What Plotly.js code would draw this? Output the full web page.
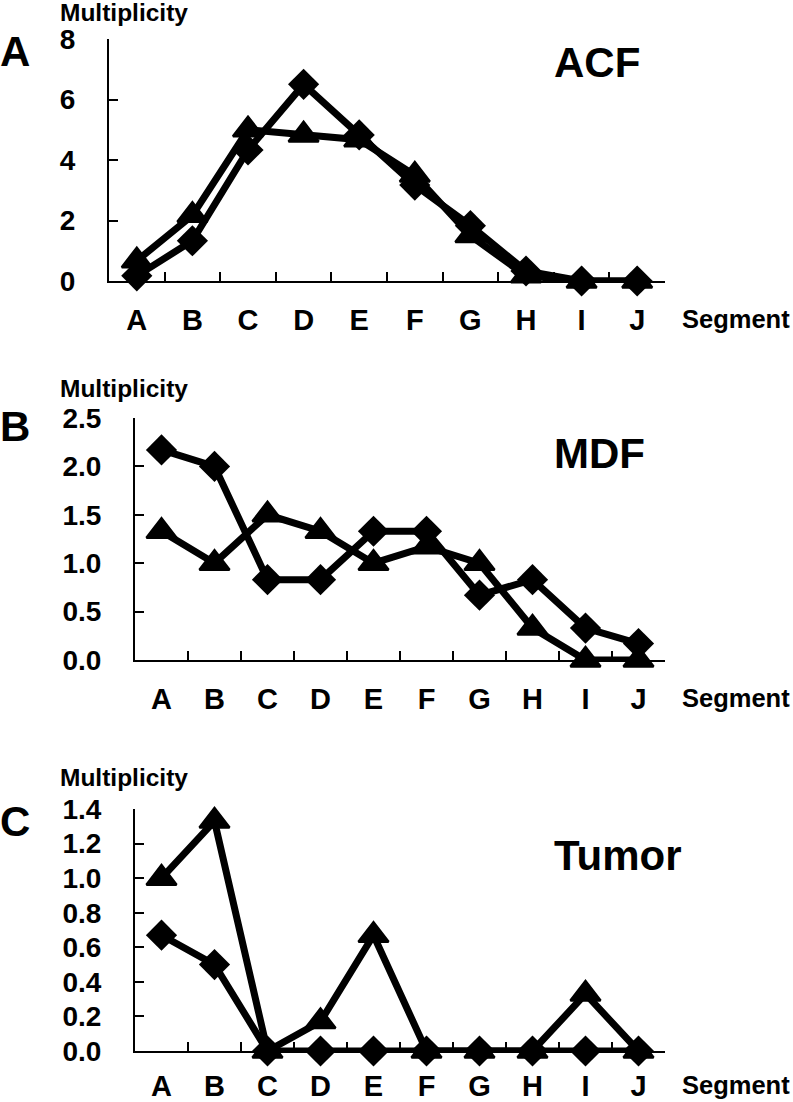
<!DOCTYPE html>
<html>
<head>
<meta charset="utf-8">
<script src="https://cdn.plot.ly/plotly-3.0.1.min.js"></script>
<style>html,body{margin:0;padding:0;background:#fff;}#chart{width:793px;height:1102px;}</style>
</head>
<body>
<div id="chart"></div>
<script>
// ---- data ----
const segments = ['A','B','C','D','E','F','G','H','I','J'];
const acfDiamond   = [0.17, 1.33, 4.33, 6.5, 4.83, 3.17, 1.83, 0.33, 0, 0];
const acfTriangle  = [0.67, 2.17, 5.0, 4.83, 4.67, 3.5, 1.5, 0.17, 0, 0];
const mdfDiamond   = [2.17, 2.0, 0.83, 0.83, 1.33, 1.33, 0.67, 0.83, 0.33, 0.17];
const mdfTriangle  = [1.33, 1.0, 1.5, 1.33, 1.0, 1.17, 1.0, 0.33, 0, 0];
const tumorDiamond = [0.67, 0.5, 0, 0, 0, 0, 0, 0, 0, 0];
const tumorTriangle= [1.0, 1.33, 0, 0.17, 0.67, 0, 0, 0, 0.33, 0];
const panelTitles = ['ACF', 'MDF', 'Tumor'];
const panelLetters = ['A', 'B', 'C'];
const yTitle = 'Multiplicity';
const xTitle = 'Segment';

// ---- layout helpers ----
const W = 793, H = 1102;
const px = x => x / W;
const py = y => 1 - y / H;
const FONT = 'Liberation Sans, Arial, Helvetica, sans-serif';

const panels = [
  {x0:109, x1:665, y0:39,  y1:281, range:[0,8],   dtick:2,   fmt:'d',  so:12, d:acfDiamond,   t:acfTriangle},
  {x0:135, x1:665, y0:418, y1:660, range:[0,2.5], dtick:0.5, fmt:'.1f', so:12, d:mdfDiamond,   t:mdfTriangle},
  {x0:135, x1:665, y0:809, y1:1051,range:[0,1.4], dtick:0.2, fmt:'.1f', so:8,  d:tumorDiamond, t:tumorTriangle}
];

const traces = [];
const layout = {
  width: W, height: H,
  margin: {l:0, r:0, t:0, b:0},
  paper_bgcolor: '#fff', plot_bgcolor: '#fff',
  showlegend: false,
  font: {family: FONT, color: '#000'},
  annotations: []
};

panels.forEach((p, i) => {
  const n = i === 0 ? '' : String(i + 1);
  const xa = 'x' + n, ya = 'y' + n;
  traces.push({
    x: segments, y: p.d, xaxis: xa, yaxis: ya, type: 'scatter', mode: 'lines+markers',
    cliponaxis: false,
    line: {color: '#000', width: 7},
    marker: {symbol: 'diamond', size: 24, color: '#000', line: {width: 0}}
  });
  traces.push({
    x: segments, y: p.t, xaxis: xa, yaxis: ya, type: 'scatter', mode: 'lines+markers',
    cliponaxis: false,
    line: {color: '#000', width: 7},
    marker: {symbol: 'triangle-up', size: 26, color: '#000', line: {width: 2.5, color: '#000'}}
  });
  layout['xaxis' + n] = {
    domain: [px(p.x0), px(p.x1)], anchor: ya, type: 'category',
    range: [-0.5, 9.5], fixedrange: true,
    showline: true, linecolor: '#000', linewidth: 2,
    showgrid: false, zeroline: false,
    ticks: 'inside', ticklen: 9, tickwidth: 2, tickcolor: '#000',
    tickson: 'boundaries',
    ticklabelstandoff: p.so,
    tickfont: {family: FONT, size: 29, weight: 'bold', color: '#000'}
  };
  layout['yaxis' + n] = {
    domain: [py(p.y1), py(p.y0)], anchor: xa,
    range: p.range, dtick: p.dtick, tick0: 0, tickformat: p.fmt, fixedrange: true,
    showline: true, linecolor: '#000', linewidth: 2,
    showgrid: false, zeroline: false,
    ticks: 'inside', ticklen: 9, tickwidth: 2, tickcolor: '#000',
    ticklabelstandoff: 26,
    tickfont: {family: FONT, size: 28, weight: 'bold', color: '#000'}
  };
});

// text positions (pixel centers of cap height)
const letterY = [47, 422, 817];
const multY = [10.5, 386.5, 775];
const titleY = [58, 449, 851];
const segY = [316, 695, 1082];

function ann(text, xpx, ypx, size) {
  layout.annotations.push({
    text: text, xref: 'paper', yref: 'paper',
    x: px(xpx), y: py(ypx + 0.1 * size), xanchor: 'left', yanchor: 'middle',
    showarrow: false, borderpad: 0,
    font: {family: FONT, size: size, weight: 'bold', color: '#000'}
  });
}
for (let i = 0; i < 3; i++) {
  ann(panelLetters[i], -1, letterY[i], 42);
  ann(yTitle, 59, multY[i], 24.5);
  ann(panelTitles[i], 553, titleY[i], 42);
  ann(xTitle, 681, segY[i], 25.5);
}

Plotly.newPlot('chart', traces, layout, {displayModeBar: false, staticPlot: true});
</script>
</body>
</html>
